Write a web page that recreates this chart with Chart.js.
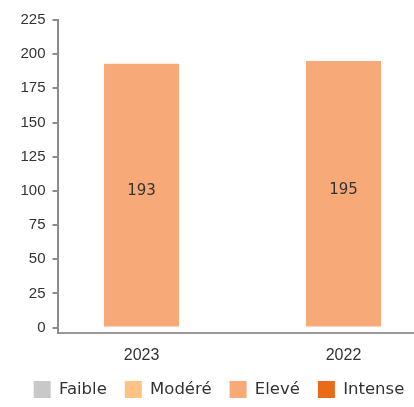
<!DOCTYPE html>
<html>
<head>
<meta charset="utf-8">
<script src="https://cdn.jsdelivr.net/npm/chart.js@4"></script>
<style>
  html, body { margin: 0; padding: 0; background: #fff; overflow: hidden; }
  #wrap { width: 414px; height: 407px; position: relative; }
</style>
</head>
<body>
<div id="wrap"><canvas id="c" width="414" height="407"></canvas></div>
<script>
// Years shown on the x axis
const years = ['2023', '2022'];
// Stacked intensity levels
const faible = [0, 0];
const modere = [0, 0];
const eleve = [193, 195];
const intense = [0, 0];
// Y axis tick values
const yTicks = [0, 25, 50, 75, 100, 125, 150, 175, 200, 225];

const toPoints = arr => arr.map((v, i) => ({ x: i, y: v }));

const labelFont = "'DejaVu Sans', sans-serif";
const axisFont = "'Liberation Sans', Arial, sans-serif";

// Writes each non-zero segment's value in the middle of its bar
const valueLabels = {
  id: 'valueLabels',
  afterDatasetsDraw(chart) {
    const ctx = chart.ctx;
    ctx.save();
    ctx.font = "15px " + labelFont;
    ctx.fillStyle = '#333';
    ctx.textAlign = 'center';
    ctx.textBaseline = 'middle';
    chart.data.datasets.forEach((ds, di) => {
      const meta = chart.getDatasetMeta(di);
      meta.data.forEach((bar, i) => {
        const v = ds.data[i].y;
        if (!v) return;
        const { x, y, base } = bar.getProps(['x', 'y', 'base'], true);
        ctx.fillText(String(v), x, (y + base) / 2 - 4);
      });
    });
    ctx.restore();
  }
};

// Nudges the legend row a little to the right of centre
const legendShift = {
  id: 'legendShift',
  afterLayout(chart) {
    if (chart.legend) {
      chart.legend.left += 12;
      chart.legend.right += 12;
    }
  }
};

new Chart(document.getElementById('c'), {
  type: 'bar',
  data: {
    datasets: [
      { label: 'Faible', data: toPoints(faible), backgroundColor: '#C8C8C8' },
      { label: 'Modéré', data: toPoints(modere), backgroundColor: '#FFC285' },
      { label: 'Elevé', data: toPoints(eleve), backgroundColor: '#F7A977' },
      { label: 'Intense', data: toPoints(intense), backgroundColor: '#E96B17' }
    ]
  },
  options: {
    responsive: false,
    animation: false,
    layout: { padding: { top: 20, right: 0, bottom: -1, left: 0 } },
    datasets: { bar: { barThickness: 75, inflateAmount: 0 } },
    scales: {
      x: {
        type: 'linear',
        stacked: true,
        offset: false,
        min: -0.416,
        max: 1.349,
        afterBuildTicks(scale) {
          scale.ticks = years.map((_, i) => ({ value: i }));
        },
        afterFit(scale) { scale.height = 30; },
        ticks: {
          callback: v => years[v],
          color: '#333',
          font: { family: axisFont, size: 16 },
          padding: 13,
          autoSkip: false,
          maxRotation: 0
        },
        grid: { display: false, drawTicks: false },
        border: { display: true, color: '#9A9A9A', width: 2 }
      },
      y: {
        stacked: true,
        min: -4,
        max: 225,
        afterBuildTicks(scale) {
          scale.ticks = yTicks.map(v => ({ value: v }));
        },
        afterFit(scale) { scale.width = 57.5; },
        ticks: {
          color: '#333',
          font: { family: axisFont, size: 15 },
          padding: 7
        },
        grid: {
          drawOnChartArea: false,
          drawTicks: true,
          tickLength: 5,
          color: '#8C8C8C',
          lineWidth: 2
        },
        border: { display: true, color: '#8C8C8C', width: 2 }
      }
    },
    plugins: {
      legend: {
        position: 'bottom',
        labels: {
          boxWidth: 17,
          boxHeight: 17,
          padding: 18,
          color: '#333',
          font: { family: labelFont, size: 16.5 }
        }
      },
      tooltip: { enabled: false }
    }
  },
  plugins: [valueLabels, legendShift]
});
</script>
</body>
</html>
